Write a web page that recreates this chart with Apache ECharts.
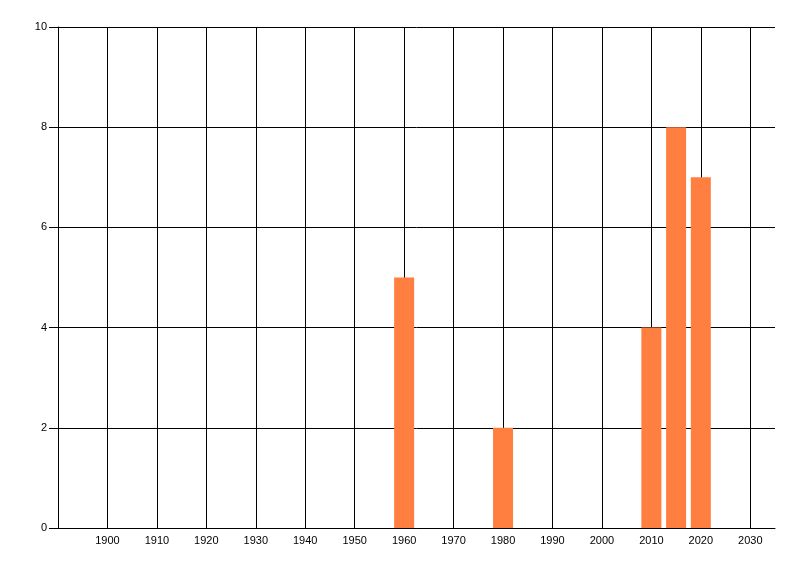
<!DOCTYPE html>
<html><head><meta charset="utf-8">
<script src="https://cdn.jsdelivr.net/npm/echarts@6/dist/echarts.min.js"></script>
<style>html,body{margin:0;padding:0;background:#fff}#c{width:800px;height:576px}</style>
</head><body><div id="c"></div>
<script>
const years = [1960, 1980, 2010, 2015, 2020];
const counts = [5, 2, 4, 8, 7];
const xMin = 1890, xMax = 2035, xInterval = 10;
const yMin = 0, yMax = 10, yInterval = 2;

const nXLines = Math.floor((xMax - xMin) / xInterval) + 2;
const xLineColors = Array.from({length: nXLines}, (_, i) => i === nXLines - 1 ? 'rgba(0,0,0,0)' : '#000');

const chart = echarts.init(document.getElementById('c'), null, {renderer: 'canvas'});
chart.setOption({
  animation: false,
  backgroundColor: '#ffffff',
  grid: {left: 58, right: 25, top: 27, bottom: 48, containLabel: false},
  xAxis: {
    type: 'value', min: xMin, max: xMax, interval: xInterval,
    axisLine: {show: true, lineStyle: {color: '#000', width: 1}},
    axisTick: {show: false},
    splitLine: {show: true, lineStyle: {color: xLineColors, width: 1}},
    axisLabel: {color: '#000', fontFamily: 'Liberation Sans, Arial, sans-serif', fontSize: 11, margin: 7,
      showMaxLabel: false,
      formatter: v => (v === xMin ? '' : String(v))}
  },
  yAxis: {
    type: 'value', min: yMin, max: yMax, interval: yInterval,
    axisLine: {show: true, lineStyle: {color: '#000', width: 1}},
    axisTick: {show: true, length: 9, lineStyle: {color: '#000'}},
    splitLine: {show: true, lineStyle: {color: '#000', width: 1}},
    axisLabel: {color: '#000', fontFamily: 'Liberation Sans, Arial, sans-serif', fontSize: 11, margin: 11}
  },
  series: [{
    type: 'bar',
    data: years.map((y, i) => [y, counts[i]]),
    barWidth: 20,
    itemStyle: {color: '#FF7F40'}
  }]
});
</script></body></html>
